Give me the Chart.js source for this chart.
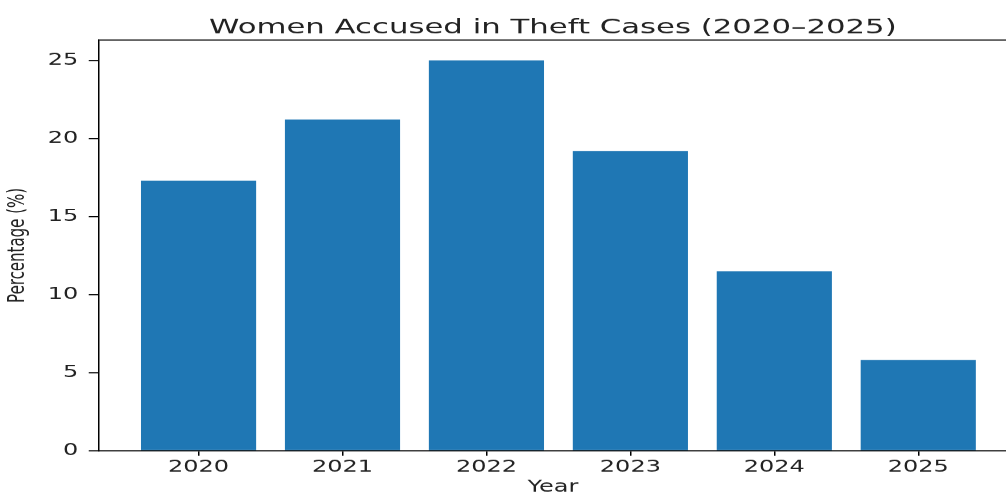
<!DOCTYPE html>
<html>
<head>
<meta charset="utf-8">
<title>Women Accused in Theft Cases (2020–2025)</title>
<script src="https://cdn.jsdelivr.net/npm/chart.js@4.4.1/dist/chart.umd.min.js"></script>
<style>
    html, body { margin: 0; padding: 0; background: #fff; overflow: hidden; }
    #myChart { display: block; }
</style>
</head>
<body>
<!-- the reference is a horizontally stretched figure, so the canvas is stretched too -->
<canvas id="myChart" width="671" height="495" style="width:1006px;height:495px"></canvas>
<script>
const years = ['2020', '2021', '2022', '2023', '2024', '2025'];
const percentages = [17.3, 21.2, 25.0, 19.2, 11.5, 5.8];
const yTicks = [0, 5, 10, 15, 20, 25];

const textColor = '#222';

// top spine (the right one is cut off in the reference)
const frame = {
    id: 'frame',
    afterDraw(chart) {
        const {ctx, chartArea} = chart;
        ctx.save();
        ctx.strokeStyle = '#000';
        ctx.lineWidth = 1;
        ctx.beginPath();
        ctx.moveTo(chartArea.left, chartArea.top);
        ctx.lineTo(chartArea.right, chartArea.top);
        ctx.stroke();
        ctx.restore();
    }
};

const data = {
    datasets: [{
        label: 'Percentage (%)',
        data: years.map((y, i) => ({x: i, y: percentages[i]})),
        backgroundColor: '#1f77b4',
        borderWidth: 0,
        categoryPercentage: 1,
        barPercentage: 0.8,
    }]
};

const config = {
    type: 'bar',
    data,
    plugins: [frame],
    options: {
        responsive: false,
        devicePixelRatio: 1.5,
        animation: false,
        layout: { padding: 0 },
        plugins: {
            legend: { display: false },
            tooltip: { enabled: false },
            title: {
                display: true,
                text: 'Women Accused in Theft Cases (2020–2025)',
                fullSize: false,
                color: textColor,
                font: { family: 'DejaVu Sans', size: 20.5, weight: 'normal', lineHeight: 1.2 },
                padding: { top: 15.4, bottom: 0 },
            }
        },
        scales: {
            x: {
                type: 'linear',
                min: -0.69,
                max: 5.613,
                offset: false,
                afterBuildTicks: (scale) => {
                    scale.ticks = years.map((y, i) => ({value: i}));
                },
                afterFit: (scale) => {
                    scale.paddingLeft = 0;
                    scale.paddingRight = 0;
                },
                ticks: {
                    callback: (v) => years[v],
                    color: textColor,
                    padding: 3,
                    maxRotation: 0,
                    autoSkip: false,
                    font: { family: 'DejaVu Sans', size: 16, lineHeight: 1.1 },
                },
                grid: {
                    offset: false,
                    drawOnChartArea: false,
                    drawTicks: true,
                    tickLength: 5,
                    tickColor: '#000',
                    tickWidth: 1,
                },
                border: { display: true, color: '#000', width: 1 },
                title: {
                    display: true,
                    text: 'Year',
                    color: textColor,
                    padding: 0,
                    font: { family: 'DejaVu Sans', size: 16, lineHeight: 1.0 },
                }
            },
            y: {
                min: 0,
                max: 26.3,
                afterBuildTicks: (scale) => {
                    scale.ticks = yTicks.map(v => ({value: v}));
                },
                ticks: {
                    color: textColor,
                    padding: 7,
                    font: { family: 'DejaVu Sans', size: 16 },
                },
                grid: {
                    drawOnChartArea: false,
                    drawTicks: true,
                    tickLength: 7,
                    tickColor: '#000',
                    tickWidth: 1,
                },
                border: { display: true, color: '#000', width: 1 },
                title: {
                    display: true,
                    text: 'Percentage (%)',
                    color: textColor,
                    padding: { top: 3, bottom: 3.8 },
                    font: { family: 'DejaVu Sans', size: 15, lineHeight: 1.2 },
                }
            }
        }
    }
};

var myChart = new Chart(
    document.getElementById('myChart'),
    config
);
</script>
</body>
</html>
